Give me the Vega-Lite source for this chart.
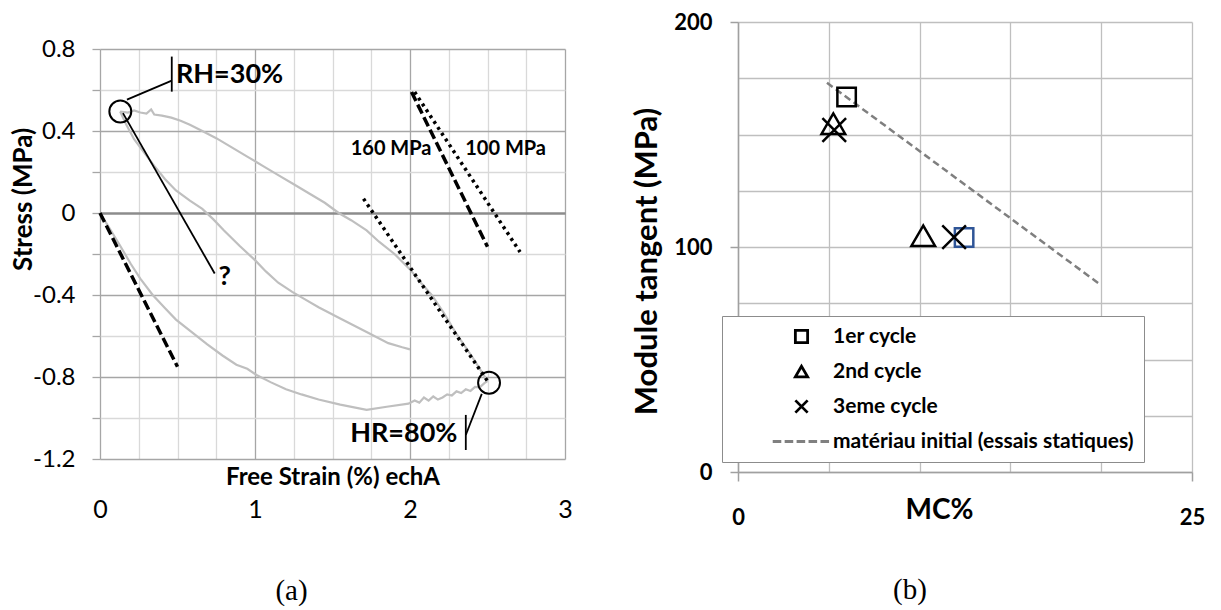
{
  "$schema": "https://vega.github.io/schema/vega-lite/v6.json",
  "background": "white",
  "padding": {"left": 10, "top": 11, "right": 0, "bottom": 0},
  "config": {"view": {"stroke": null}, "font": "Lato", "axis": {"labelColor": "black", "titleColor": "black"}},
  "spacing": 57,
  "hconcat": [
    {
      "spacing": 14,
      "vconcat": [
        {"width": 10, "height": 1, "data": {"values": []}, "mark": {"type": "rule", "opacity": 0}, "encoding": {}},
        {
          "width": 465,
          "height": 410,
          "title": {"text": "(a)", "orient": "bottom", "font": "Liberation Serif", "fontSize": 29, "fontWeight": "normal", "color": "black", "dx": -41, "offset": 55},
          "encoding": {
            "x": {"field": "x", "type": "quantitative", "scale": {"domain": [0, 3], "nice": false, "zero": false},
              "axis": {"values": [0, 0.25, 0.5, 0.75, 1, 1.25, 1.5, 1.75, 2, 2.25, 2.5, 2.75, 3],
                "labelExpr": "datum.value % 1 == 0 ? format(datum.value, 'd') : ''",
                "labelFlush": false, "labelOverlap": false,
                "grid": true, "gridColor": {"condition": {"test": "datum.value % 1 == 0", "value": "#a6a6a6"}, "value": "#d9d9d9"}, "gridWidth": 1.3,
                "domain": false, "ticks": false, "tickSize": 0, "labelPadding": 50, "labelBaseline": "middle",
                "labelFont": "Lato", "labelFontSize": 25, "labelFontWeight": "normal",
                "title": "Free Strain (%) echA", "titleFont": "Lato", "titleFontSize": 24, "titleFontWeight": "bold", "titleY": 18, "titleBaseline": "middle"}},
            "y": {"field": "y", "type": "quantitative", "scale": {"domain": [-1.2, 0.8], "nice": false, "zero": false},
              "axis": {"values": [-1.2, -1, -0.8, -0.6, -0.4, -0.2, 0, 0.2, 0.4, 0.6, 0.8],
                "labelExpr": "abs(round(datum.value*10)) % 4 == 0 ? (datum.value == 0 ? '0' : (datum.value < 0 ? '-' : '') + format(abs(datum.value), '.1f')) : ''",
                "labelOverlap": false,
                "grid": true,
                "gridColor": {"condition": [{"test": "datum.value == 0", "value": "#8c8c8c"}, {"test": "abs(round(datum.value*10)) % 4 == 0", "value": "#a6a6a6"}], "value": "#d9d9d9"},
                "gridWidth": {"condition": {"test": "datum.value == 0", "value": 2.6}, "value": 1.3},
                "domain": false, "ticks": true, "tickSize": 8, "tickColor": "#a6a6a6", "tickWidth": 1.3,
                "labelFont": "Lato", "labelFontSize": 24, "labelFontWeight": "normal", "labelPadding": 17,
                "title": "Stress (MPa)", "titleFont": "Lato", "titleFontSize": 26, "titleFontWeight": "bold", "titleX": -77, "titleY": 150, "titleBaseline": "middle"}}
          },
          "layer": [
            {
              "data": {"values": [
                {"curve": "A", "x": 0.13, "y": 0.495}, {"curve": "A", "x": 0.18, "y": 0.49}, {"curve": "A", "x": 0.22, "y": 0.5}, {"curve": "A", "x": 0.26, "y": 0.49}, {"curve": "A", "x": 0.3, "y": 0.485}, {"curve": "A", "x": 0.33, "y": 0.505}, {"curve": "A", "x": 0.35, "y": 0.48}, {"curve": "A", "x": 0.4, "y": 0.475}, {"curve": "A", "x": 0.46, "y": 0.465}, {"curve": "A", "x": 0.52, "y": 0.45}, {"curve": "A", "x": 0.58, "y": 0.43}, {"curve": "A", "x": 0.66, "y": 0.4}, {"curve": "A", "x": 0.75, "y": 0.365}, {"curve": "A", "x": 0.85, "y": 0.32}, {"curve": "A", "x": 0.95, "y": 0.275}, {"curve": "A", "x": 1.05, "y": 0.23}, {"curve": "A", "x": 1.15, "y": 0.185}, {"curve": "A", "x": 1.25, "y": 0.14}, {"curve": "A", "x": 1.35, "y": 0.095}, {"curve": "A", "x": 1.45, "y": 0.05}, {"curve": "A", "x": 1.54, "y": 0.0}, {"curve": "A", "x": 1.62, "y": -0.035}, {"curve": "A", "x": 1.72, "y": -0.085}, {"curve": "A", "x": 1.8, "y": -0.14}, {"curve": "A", "x": 1.9, "y": -0.2}, {"curve": "A", "x": 2.0, "y": -0.275}, {"curve": "A", "x": 2.07, "y": -0.34}, {"curve": "A", "x": 2.14, "y": -0.4}, {"curve": "A", "x": 2.22, "y": -0.49}, {"curve": "A", "x": 2.3, "y": -0.59}, {"curve": "A", "x": 2.4, "y": -0.7}, {"curve": "A", "x": 2.5, "y": -0.82},
                {"curve": "B", "x": 0.13, "y": 0.495}, {"curve": "B", "x": 0.17, "y": 0.43}, {"curve": "B", "x": 0.22, "y": 0.36}, {"curve": "B", "x": 0.28, "y": 0.3}, {"curve": "B", "x": 0.35, "y": 0.23}, {"curve": "B", "x": 0.42, "y": 0.165}, {"curve": "B", "x": 0.49, "y": 0.11}, {"curve": "B", "x": 0.58, "y": 0.06}, {"curve": "B", "x": 0.66, "y": 0.02}, {"curve": "B", "x": 0.73, "y": -0.03}, {"curve": "B", "x": 0.8, "y": -0.085}, {"curve": "B", "x": 0.9, "y": -0.16}, {"curve": "B", "x": 1.0, "y": -0.23}, {"curve": "B", "x": 1.07, "y": -0.285}, {"curve": "B", "x": 1.15, "y": -0.34}, {"curve": "B", "x": 1.24, "y": -0.385}, {"curve": "B", "x": 1.32, "y": -0.42}, {"curve": "B", "x": 1.41, "y": -0.46}, {"curve": "B", "x": 1.55, "y": -0.515}, {"curve": "B", "x": 1.72, "y": -0.58}, {"curve": "B", "x": 1.86, "y": -0.635}, {"curve": "B", "x": 1.95, "y": -0.655}, {"curve": "B", "x": 2.0, "y": -0.665},
                {"curve": "C", "x": 0.0, "y": 0.0}, {"curve": "C", "x": 0.05, "y": -0.06}, {"curve": "C", "x": 0.13, "y": -0.16}, {"curve": "C", "x": 0.2, "y": -0.25}, {"curve": "C", "x": 0.26, "y": -0.32}, {"curve": "C", "x": 0.34, "y": -0.4}, {"curve": "C", "x": 0.42, "y": -0.465}, {"curve": "C", "x": 0.49, "y": -0.52}, {"curve": "C", "x": 0.59, "y": -0.58}, {"curve": "C", "x": 0.69, "y": -0.64}, {"curve": "C", "x": 0.79, "y": -0.695}, {"curve": "C", "x": 0.88, "y": -0.74}, {"curve": "C", "x": 0.95, "y": -0.76}, {"curve": "C", "x": 1.01, "y": -0.79}, {"curve": "C", "x": 1.1, "y": -0.825}, {"curve": "C", "x": 1.2, "y": -0.86}, {"curve": "C", "x": 1.3, "y": -0.885}, {"curve": "C", "x": 1.41, "y": -0.91}, {"curve": "C", "x": 1.55, "y": -0.935}, {"curve": "C", "x": 1.72, "y": -0.96}, {"curve": "C", "x": 1.85, "y": -0.945}, {"curve": "C", "x": 1.99, "y": -0.93}, {"curve": "C", "x": 2.03, "y": -0.915}, {"curve": "C", "x": 2.06, "y": -0.925}, {"curve": "C", "x": 2.09, "y": -0.9}, {"curve": "C", "x": 2.12, "y": -0.915}, {"curve": "C", "x": 2.15, "y": -0.895}, {"curve": "C", "x": 2.18, "y": -0.91}, {"curve": "C", "x": 2.21, "y": -0.9}, {"curve": "C", "x": 2.24, "y": -0.885}, {"curve": "C", "x": 2.27, "y": -0.89}, {"curve": "C", "x": 2.3, "y": -0.87}, {"curve": "C", "x": 2.33, "y": -0.878}, {"curve": "C", "x": 2.36, "y": -0.86}, {"curve": "C", "x": 2.39, "y": -0.868}, {"curve": "C", "x": 2.42, "y": -0.848}, {"curve": "C", "x": 2.45, "y": -0.85}, {"curve": "C", "x": 2.48, "y": -0.83}, {"curve": "C", "x": 2.5, "y": -0.82}
              ]},
              "mark": {"type": "line", "color": "#bfbfbf", "strokeWidth": 2.2},
              "encoding": {"detail": {"field": "curve"}}
            },
            {
              "data": {"values": [
                {"seg": "t1", "modulus": "160 MPa", "x": 0.0, "y": 0.0}, {"seg": "t1", "modulus": "160 MPa", "x": 0.5, "y": -0.75},
                {"seg": "t2", "modulus": "160 MPa", "x": 2.01, "y": 0.59}, {"seg": "t2", "modulus": "160 MPa", "x": 2.5, "y": -0.165},
                {"seg": "t3", "modulus": "100 MPa", "x": 2.03, "y": 0.59}, {"seg": "t3", "modulus": "100 MPa", "x": 2.71, "y": -0.19},
                {"seg": "t4", "modulus": "100 MPa", "x": 1.7, "y": 0.07}, {"seg": "t4", "modulus": "100 MPa", "x": 2.5, "y": -0.82}
              ]},
              "mark": {"type": "line", "color": "black", "strokeWidth": 3.5},
              "encoding": {
                "detail": {"field": "seg"},
                "strokeDash": {"field": "modulus", "type": "nominal", "scale": {"domain": ["160 MPa", "100 MPa"], "range": [[10, 4], [3, 4]]}, "legend": null}
              }
            },
            {
              "data": {"values": [{"x": 0.131, "y": 0.495}, {"x": 2.51, "y": -0.828}]},
              "mark": {"type": "point", "shape": "circle", "filled": false, "size": 480, "stroke": "black", "strokeWidth": 2, "opacity": 1}
            },
            {
              "data": {"values": [
                {"x": 0.174, "y": 0.553, "x2": 0.463, "y2": 0.646},
                {"x": 0.463, "y": 0.763, "x2": 0.463, "y2": 0.592},
                {"x": 0.148, "y": 0.487, "x2": 0.74, "y2": -0.295},
                {"x": 2.463, "y": -0.882, "x2": 2.36, "y2": -1.083},
                {"x": 2.36, "y": -0.985, "x2": 2.36, "y2": -1.156}
              ]},
              "mark": {"type": "rule", "color": "black", "strokeWidth": 1.8},
              "encoding": {"x2": {"field": "x2"}, "y2": {"field": "y2"}}
            },
            {
              "data": {"values": [
                {"label": "RH=30%", "x": 0.836, "y": 0.671},
                {"label": "HR=80%", "x": 1.96, "y": -1.078},
                {"label": "?", "x": 0.804, "y": -0.31}
              ]},
              "mark": {"type": "text", "font": "Lato", "fontSize": 27, "fontWeight": "bold", "color": "black", "align": "center", "baseline": "middle"},
              "encoding": {"text": {"field": "label"}}
            },
            {
              "data": {"values": [
                {"label": "160 MPa", "x": 1.878, "y": 0.314},
                {"label": "100 MPa", "x": 2.617, "y": 0.314}
              ]},
              "mark": {"type": "text", "font": "Lato", "fontSize": 20, "fontWeight": "bold", "color": "black", "align": "center", "baseline": "middle"},
              "encoding": {"text": {"field": "label"}}
            }
          ]
        }
      ]
    },
    {
      "width": 454,
      "height": 450,
      "title": {"text": "(b)", "orient": "bottom", "font": "Liberation Serif", "fontSize": 29, "fontWeight": "normal", "color": "black", "dx": -55, "offset": 48},
      "encoding": {
        "x": {"field": "MC", "type": "quantitative", "scale": {"domain": [0, 25], "nice": false, "zero": false},
          "axis": {"values": [0, 5, 10, 15, 20, 25],
            "labelExpr": "datum.value == 0 || datum.value == 25 ? datum.label : ''",
            "labelFlush": false, "labelOverlap": false,
            "grid": true, "gridColor": "#bfbfbf", "gridWidth": 1.3,
            "domain": true, "domainColor": "#a0a0a0", "domainWidth": 1.5,
            "ticks": true, "tickSize": 9, "tickColor": "#a0a0a0", "tickWidth": 1.5,
            "tickOpacity": {"condition": {"test": "datum.value == 0 || datum.value == 25", "value": 1}, "value": 0},
            "labelFont": "Lato", "labelFontSize": 22, "labelFontWeight": "bold", "labelPadding": 36, "labelBaseline": "middle",
            "title": "MC%", "titleFont": "Lato", "titleFontSize": 28, "titleFontWeight": "bold", "titleX": 201, "titleY": 38, "titleBaseline": "middle"}},
        "y": {"field": "E", "type": "quantitative", "scale": {"domain": [0, 200], "nice": false, "zero": false},
          "axis": {"values": [0, 25, 50, 75, 100, 125, 150, 175, 200],
            "labelExpr": "datum.value % 100 == 0 ? datum.label : ''",
            "labelOverlap": false,
            "grid": true, "gridColor": "#bfbfbf", "gridWidth": 1.3,
            "domain": true, "domainColor": "#a0a0a0", "domainWidth": 1.5,
            "ticks": true, "tickSize": 8, "tickColor": "#a0a0a0", "tickWidth": 1.5,
            "tickOpacity": {"condition": {"test": "datum.value % 100 == 0", "value": 1}, "value": 0},
            "labelFont": "Lato", "labelFontSize": 22, "labelFontWeight": "bold", "labelPadding": 18,
            "title": "Module tangent (MPa)", "titleFont": "Lato", "titleFontSize": 31, "titleFontWeight": "bold", "titleX": -91, "titleY": 239, "titleBaseline": "middle"}}
      },
      "layer": [
        {
          "data": {"values": [{"MC": 4.9, "E": 173}, {"MC": 20, "E": 83}]},
          "mark": {"type": "line", "color": "#7f7f7f", "strokeDash": [7, 4], "strokeWidth": 2.5}
        },
        {
          "data": {"values": [
            {"cycle": "1er cycle", "MC": 5.98, "E": 166.7},
            {"cycle": "1er cycle", "MC": 12.45, "E": 104.2},
            {"cycle": "2nd cycle", "MC": 5.25, "E": 154.8},
            {"cycle": "2nd cycle", "MC": 10.2, "E": 105},
            {"cycle": "3eme cycle", "MC": 5.3, "E": 152},
            {"cycle": "3eme cycle", "MC": 11.9, "E": 104.4}
          ]},
          "mark": {"type": "point", "filled": false, "strokeWidth": 2.5, "opacity": 1},
          "encoding": {
            "shape": {"field": "cycle", "type": "nominal",
              "scale": {"domain": ["1er cycle", "2nd cycle", "3eme cycle", "matériau initial (essais statiques)"], "range": ["square", "triangle-up", "M-1,-1L1,1M1,-1L-1,1", "M-4.7,0H-3.3M-2.75,0H-1.35M-0.8,0H0.6M1.15,0H2.55M3.1,0H4.5"]},
              "legend": {"title": null, "orient": "none", "legendX": 622, "legendY": 294,
                "fillColor": "white", "strokeColor": "#8c8c8c", "padding": 10,
                "symbolSize": 150, "symbolStrokeWidth": 2.8, "symbolFillColor": "transparent",
                "symbolOffset": 59, "labelOffset": 21, "labelFont": "Lato", "labelFontSize": 21, "labelFontWeight": "bold", "labelColor": "black", "labelLimit": 400, "rowPadding": 11}},
            "stroke": {"field": "cycle", "type": "nominal",
              "scale": {"domain": ["1er cycle", "2nd cycle", "3eme cycle", "matériau initial (essais statiques)"], "range": ["black", "black", "black", "#808080"]},
              "condition": {"test": "datum.cycle === '1er cycle' && datum.MC > 10", "value": "#2F5597"},
              "legend": {"title": null, "orient": "none", "legendX": 622, "legendY": 294,
                "fillColor": "white", "strokeColor": "#8c8c8c", "padding": 10,
                "symbolSize": 150, "symbolStrokeWidth": 2.8, "symbolFillColor": "transparent",
                "symbolOffset": 59, "labelOffset": 21, "labelFont": "Lato", "labelFontSize": 21, "labelFontWeight": "bold", "labelColor": "black", "labelLimit": 400, "rowPadding": 11}},
            "size": {"condition": {"test": "datum.cycle === '1er cycle'", "value": 340}, "value": 560}
          }
        }
      ]
    }
  ]
}
